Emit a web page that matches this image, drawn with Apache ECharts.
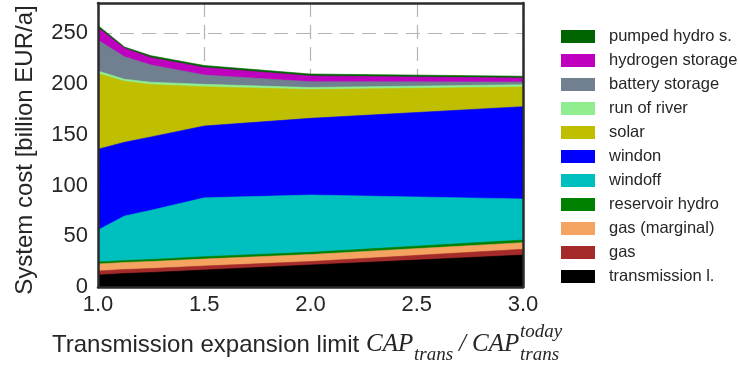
<!DOCTYPE html>
<html>
<head>
<meta charset="utf-8">
<script src="https://cdn.jsdelivr.net/npm/echarts@6/dist/echarts.min.js"></script>
<style>
  html, body { margin: 0; padding: 0; background: #fff; }
  #chart { width: 739px; height: 369px; }
</style>
</head>
<body>
<div id="chart"></div>
<script>
// Transmission expansion limit (multiple of today's capacity)
const limits = [1.0, 1.125, 1.25, 1.5, 2.0, 3.0];

// System cost components, billion EUR per year (stacked bottom to top)
const transmission    = [11.8, 13.3, 14.3, 16.8, 21.7, 31.5];
const gas             = [4.0, 4.0, 3.9, 3.9, 3.4, 5.7];
const gasMarginal     = [6.9, 6.9, 6.9, 6.9, 6.9, 6.5];
const reservoirHydro  = [1.9, 1.9, 2.0, 2.3, 2.2, 2.6];
const windoff         = [31.6, 43.9, 48.6, 58.0, 56.5, 40.5];
const windon          = [79.6, 72.7, 72.3, 70.8, 75.6, 91.0];
const solar           = [74.7, 60.1, 51.6, 38.8, 28.4, 19.4];
const runOfRiver      = [2.5, 2.0, 2.3, 2.3, 2.0, 2.3];
const batteryStorage  = [30.5, 22.2, 17.0, 9.2, 5.7, 2.6];
const hydrogenStorage = [12.1, 8.3, 7.2, 7.4, 5.6, 3.9];
const pumpedHydro     = [2.2, 1.3, 1.9, 2.0, 2.0, 1.8];

const xTickLabels = ['1.0', '1.5', '2.0', '2.5', '3.0'];
const yTickLabels = ['0', '50', '100', '150', '200', '250'];

const layers = [
  { name: 'transmission l.',  values: transmission,    color: '#000000' },
  { name: 'gas',              values: gas,             color: '#a52a2a' },
  { name: 'gas (marginal)',   values: gasMarginal,     color: '#f4a460' },
  { name: 'reservoir hydro',  values: reservoirHydro,  color: '#008000' },
  { name: 'windoff',          values: windoff,         color: '#00bfbf' },
  { name: 'windon',           values: windon,          color: '#0000ff' },
  { name: 'solar',            values: solar,           color: '#bfbf00' },
  { name: 'run of river',     values: runOfRiver,      color: '#90ee90' },
  { name: 'battery storage',  values: batteryStorage,  color: '#708090' },
  { name: 'hydrogen storage', values: hydrogenStorage, color: '#bf00bf' },
  { name: 'pumped hydro s.',  values: pumpedHydro,     color: '#006400' }
];

// Running totals: each layer is filled from the axis up to its cumulative top.
// Upper layers are painted first so the lower ones sit on top of them.
const running = limits.map(() => 0);
const stacked = layers.map(l => {
  const tops = l.values.map((v, i) => (running[i] += v));
  return Object.assign({}, l, { tops: tops.slice() });
});

const textColor = '#262626';
const frameColor = '#2b2b2b';
const gridDash = { color: '#b3b3b3', width: 1.2, type: [14, 8] };

const chart = echarts.init(document.getElementById('chart'), null, { renderer: 'canvas' });

const series = stacked.slice().reverse().map(l => ({
  name: l.name,
  type: 'line',
  data: limits.map((x, i) => [x, l.tops[i]]),
  showSymbol: false,
  symbol: 'none',
  smooth: false,
  color: l.color,
  itemStyle: { color: l.color },
  lineStyle: { width: 0.6, color: l.color },
  areaStyle: { color: l.color, opacity: 1, origin: 'start' },
  emphasis: { disabled: true },
  animation: false
}));

const frameAxis = {
  type: 'value',
  axisLine: { show: true, onZero: false, lineStyle: { color: frameColor, width: 2.5 } },
  axisTick: { show: false },
  axisLabel: { show: false },
  splitLine: { show: false },
  z: 10
};

const serif = '"Liberation Serif"';

chart.setOption({
  animation: false,
  backgroundColor: '#ffffff',
  grid: { left: 98, right: 216, top: 3, bottom: 82, containLabel: false, outerBoundsMode: 'none' },
  legend: {
    orient: 'vertical',
    left: 561,
    top: 28,
    padding: 0,
    icon: 'rect',
    itemWidth: 34,
    itemHeight: 13,
    itemGap: 7,
    data: layers.map(l => l.name).reverse(),
    textStyle: { color: textColor, fontSize: 16.5, lineHeight: 16, fontFamily: 'Liberation Sans', padding: [0, 0, 0, 9] },
    selectedMode: false
  },
  xAxis: [
    {
      type: 'value', min: 1, max: 3, interval: 0.5, position: 'bottom',
      axisLine: { show: true, onZero: false, lineStyle: { color: frameColor, width: 2.5 } },
      axisTick: { show: false },
      axisLabel: {
        color: textColor, fontSize: 22, fontFamily: 'Liberation Sans', margin: 7,
        formatter: v => xTickLabels[Math.round((v - 1) / 0.5)]
      },
      splitLine: { show: false },
      z: 10
    },
    Object.assign({}, frameAxis, { min: 1, max: 3, position: 'top' }),
    {
      type: 'value', min: 1, max: 3, interval: 0.5,
      axisLine: { show: false }, axisTick: { show: false }, axisLabel: { show: false },
      splitLine: { show: true, lineStyle: gridDash },
      z: 0
    }
  ],
  yAxis: [
    {
      type: 'value', min: 0, max: 280, interval: 50, position: 'left',
      name: 'System cost [billion EUR/a]',
      nameLocation: 'middle',
      nameGap: 61,
      nameTextStyle: { color: textColor, fontSize: 24, fontFamily: 'Liberation Sans', padding: [0, 10, 0, 0] },
      axisLine: { show: true, onZero: false, lineStyle: { color: frameColor, width: 2.5 } },
      axisTick: { show: false },
      axisLabel: {
        color: textColor, fontSize: 22, fontFamily: 'Liberation Sans', margin: 10,
        showMaxLabel: false,
        formatter: v => (v % 50 === 0 ? yTickLabels[v / 50] : '')
      },
      splitLine: { show: false },
      z: 10
    },
    Object.assign({}, frameAxis, { min: 0, max: 280, position: 'right' }),
    {
      type: 'value', min: 0, max: 280, interval: 50,
      axisLine: { show: false }, axisTick: { show: false }, axisLabel: { show: false },
      splitLine: { show: true, lineStyle: gridDash },
      z: 0
    }
  ],
  graphic: [
    {
      type: 'text', left: 52, top: 333,
      style: { text: 'Transmission expansion limit', font: '24px "Liberation Sans"', fill: textColor }
    },
    {
      type: 'text', left: 366, top: 332,
      style: { text: 'CAP', font: 'italic 25px ' + serif, fill: textColor }
    },
    {
      type: 'text', left: 414, top: 345,
      style: { text: 'trans', font: 'italic 19px ' + serif, fill: textColor }
    },
    {
      type: 'text', left: 459, top: 332,
      style: { text: '/', font: 'italic 25px ' + serif, fill: textColor }
    },
    {
      type: 'text', left: 472, top: 332,
      style: { text: 'CAP', font: 'italic 25px ' + serif, fill: textColor }
    },
    {
      type: 'text', left: 520, top: 322,
      style: { text: 'today', font: 'italic 19px ' + serif, fill: textColor }
    },
    {
      type: 'text', left: 520, top: 345,
      style: { text: 'trans', font: 'italic 19px ' + serif, fill: textColor }
    }
  ],
  series: series
});
</script>
</body>
</html>
